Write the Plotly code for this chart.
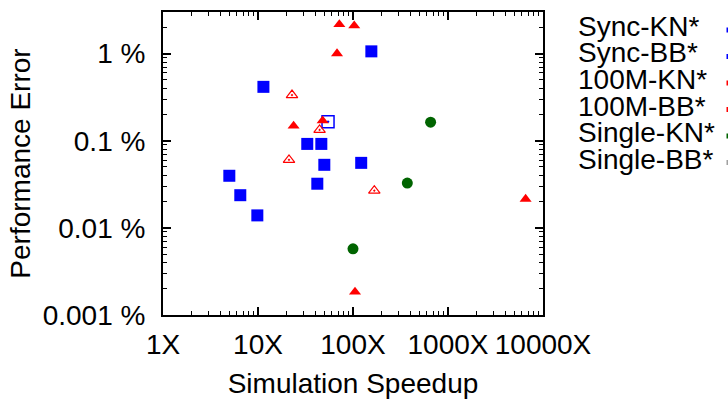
import plotly.graph_objects as go

# ---- data (speedup in X, error in %) ----
sync_kn_x = [54.6]
sync_kn_y = [0.165]

sync_bb_x = [156, 11.4, 33.0, 46.4, 49.9, 122, 4.99, 42.1, 6.51, 9.84]
sync_bb_y = [1.06, 0.415, 0.0919, 0.0919, 0.0529, 0.0557, 0.0396, 0.0321, 0.0237, 0.0139]

m100_kn_x = [22.8, 44.5, 21.2, 167.6]
m100_kn_y = [0.334, 0.133, 0.0603, 0.0267]

m100_bb_x = [71.8, 103, 67.9, 23.7, 47.9, 105, 6560]
m100_bb_y = [2.16, 2.09, 1.0, 0.1476, 0.170, 0.00184, 0.0214]

single_kn_x = [656, 373, 100]
single_kn_y = [0.163, 0.0327, 0.00575]

single_bb_x = []
single_bb_y = []

series_names = ["Sync-KN*", "Sync-BB*", "100M-KN*", "100M-BB*", "Single-KN*", "Single-BB*"]

x_tickvals = [1, 10, 100, 1000, 10000]
x_ticktext = ["1X", "10X", "100X", "1000X", "10000X"]
y_tickvals = [0.001, 0.01, 0.1, 1]
y_ticktext = ["0.001 %", "0.01 %", "0.1 %", "1 %"]

FONT = "Liberation Sans, Arial, Helvetica, sans-serif"
FS = 28
BLUE = "#0000ff"
RED = "#ff0000"
GREEN = "#006400"
GREY = "#a0a0a0"

fig = go.Figure()
fig.add_trace(go.Scatter(x=sync_kn_x, y=sync_kn_y, mode="markers", name=series_names[0],
                         marker=dict(symbol="square-open-dot", size=12, color=BLUE, line=dict(width=1.5, color=BLUE))))
fig.add_trace(go.Scatter(x=sync_bb_x, y=sync_bb_y, mode="markers", name=series_names[1],
                         marker=dict(symbol="square", size=12, color=BLUE, line=dict(width=0))))
fig.add_trace(go.Scatter(x=m100_kn_x, y=m100_kn_y, mode="markers", name=series_names[2],
                         marker=dict(symbol="triangle-up-open-dot", size=10, color=RED, line=dict(width=1.2, color=RED))))
fig.add_trace(go.Scatter(x=m100_bb_x, y=m100_bb_y, mode="markers", name=series_names[3],
                         marker=dict(symbol="triangle-up", size=10.5, color=RED, line=dict(width=0))))
fig.add_trace(go.Scatter(x=single_kn_x, y=single_kn_y, mode="markers", name=series_names[4],
                         marker=dict(symbol="circle", size=11, color=GREEN, line=dict(width=0))))
fig.add_trace(go.Scatter(x=single_bb_x, y=single_bb_y, mode="markers", name=series_names[5],
                         marker=dict(symbol="circle", size=11, color=GREY, line=dict(width=0))))

# plot area in pixels
L, R, T, B = 163, 185, 12, 87
W, H = 728, 402
PW, PH = W - L - R, H - T - B

def px_to_paper_x(px):
    return (px - L) / PW

def px_to_paper_y(py):
    return (H - B - py) / PH

# legend text (gnuplot-style, samples to the right, cut off by window edge)
legend_rows_y = [26.5, 53, 79.5, 106, 132.5, 159]
legend_colors = [BLUE, BLUE, RED, RED, GREEN, GREY]
for name, ry, col in zip(series_names, legend_rows_y, legend_colors):
    fig.add_annotation(x=px_to_paper_x(576), y=px_to_paper_y(ry), xref="paper", yref="paper",
                       text=name, showarrow=False, xanchor="left", yanchor="middle",
                       font=dict(family=FONT, size=FS, color="black"))
    fig.add_shape(type="rect", xref="paper", yref="paper",
                  x0=px_to_paper_x(726.5), x1=px_to_paper_x(729),
                  y0=px_to_paper_y(ry + 6), y1=px_to_paper_y(ry + 1),
                  fillcolor=col, line=dict(width=0), layer="above")

axis_common = dict(
    type="log",
    showgrid=False,
    zeroline=False,
    showline=True,
    linecolor="black",
    linewidth=2,
    mirror="allticks",
    ticks="inside",
    ticklen=8,
    tickwidth=1.5,
    tickcolor="black",
    tickfont=dict(family=FONT, size=FS, color="black"),
    minor=dict(ticks="inside", ticklen=4, tickwidth=1, tickcolor="black", dtick="D1", showgrid=False),
    automargin=False,
)

fig.update_xaxes(**axis_common, range=[0, 4], tickmode="array", tickvals=x_tickvals, ticktext=x_ticktext,
                 ticklabelstandoff=3,
                 title=dict(text="Simulation Speedup", font=dict(family=FONT, size=FS, color="black"), standoff=15))
fig.update_yaxes(**axis_common, range=[-3, 0.477], tickmode="array", tickvals=y_tickvals, ticktext=y_ticktext,
                 ticklabelstandoff=10,
                 title=dict(text="Performance Error", font=dict(family=FONT, size=FS, color="black"), standoff=4))

fig.update_layout(
    width=W, height=H,
    margin=dict(l=L, r=R, t=T, b=B, pad=0),
    plot_bgcolor="white", paper_bgcolor="white",
    showlegend=False,
    font=dict(family=FONT, size=FS, color="black"),
)

fig.write_html("out.html")
